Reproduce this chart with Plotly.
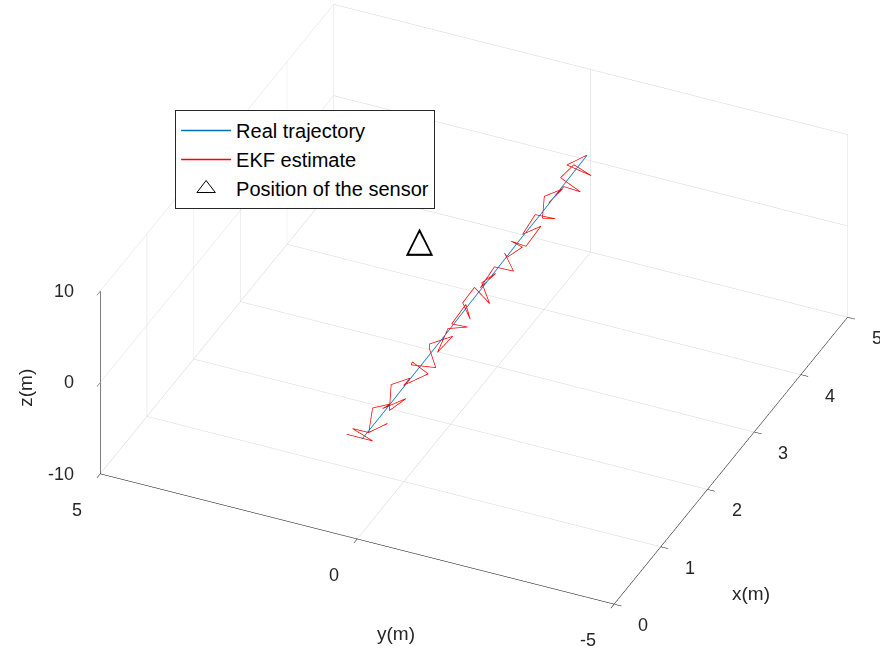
import plotly.graph_objects as go

# Real trajectory
real_x = [0.1, 0.5, 1.0, 1.5, 2.0, 2.5, 3.0, 3.5, 4.0, 4.5, 5.0]
real_y = [0.0, 0.0, 0.01, 0.01, 0.02, 0.03, 0.04, 0.05, 0.05, 0.06, 0.07]
real_z = [0.3, 0.3, 0.3, 0.35, 0.35, 0.4, 0.4, 0.45, 0.45, 0.5, 0.5]

# EKF estimate
ekf_x = [0.05, 0.22, 0.10, 0.30, 0.41, 0.38, 0.55, 0.62, 0.71, 0.85,
         0.80, 0.97, 1.08, 1.15, 1.30, 1.27, 1.42, 1.55, 1.61, 1.75,
         1.88, 1.83, 2.00, 2.12, 2.20, 2.35, 2.31, 2.48, 2.60, 2.66,
         2.80, 2.92, 2.88, 3.05, 3.15, 3.22, 3.38, 3.45, 3.52, 3.66,
         3.78, 3.74, 3.90, 4.02, 4.10, 4.25, 4.33, 4.28, 4.45, 4.58,
         4.62, 4.75, 4.88, 4.80, 4.95, 5.00]
ekf_y = [0.25, -0.10, 0.18, 0.05, -0.22, 0.12, 0.20, -0.08, 0.15, -0.18,
         0.10, 0.22, -0.05, 0.14, -0.20, 0.08, 0.24, -0.12, 0.06, 0.18,
         -0.15, 0.10, 0.05, -0.22, 0.16, 0.02, -0.10, 0.20, 0.08, -0.16,
         0.12, -0.04, 0.22, 0.10, -0.18, 0.06, 0.15, -0.08, 0.20, 0.04,
         -0.14, 0.18, 0.08, -0.20, 0.12, 0.22, -0.06, 0.16, 0.02, -0.18,
         0.24, 0.10, -0.12, 0.28, 0.05, 0.07]
ekf_z = [0.8, -0.5, 1.2, -0.3, 0.4, -0.9, 0.6, 1.0, -0.4, 0.3,
         -1.1, 0.5, 0.9, -0.6, 0.2, 1.3, -0.2, -0.8, 0.7, 0.1,
         0.6, -1.2, 0.4, 0.2, -0.5, 0.9, -0.3, 0.0, 1.1, -0.7,
         0.3, 0.8, -0.9, 0.5, -0.2, 1.0, -0.6, 0.4, 0.2, -1.0,
         0.7, -0.4, 0.9, 0.1, -0.8, 0.5, 1.2, -0.3, 0.6, -0.5,
         0.2, 1.0, -0.7, 0.4, 0.8, 0.5]

# Sensor
sensor_x = [3.2]
sensor_y = [1.7]
sensor_z = [0.0]

x_ticks = [0, 1, 2, 3, 4, 5]
x_labels = ["0", "1", "2", "3", "4", "5"]
y_ticks = [-5, 0, 5]
y_labels = ["-5", "0", "5"]
z_ticks = [-10, 0, 10]
z_labels = ["-10", "0", "10"]

FONT = "Liberation Sans, Arial, sans-serif"
TXT = "#262626"
TICKF = dict(size=18, family=FONT, color=TXT)
TITLEF = dict(size=19, family=FONT, color=TXT)

fig = go.Figure()
fig.add_trace(go.Scatter3d(x=real_x, y=real_y, z=real_z, mode="lines",
                           line=dict(color="#0072BD", width=1.5),
                           name="Real trajectory", legendgroup="a"))
fig.add_trace(go.Scatter3d(x=ekf_x, y=ekf_y, z=ekf_z, mode="lines",
                           line=dict(color="#FF0000", width=1.5),
                           name="EKF estimate", legendgroup="b"))
fig.add_trace(go.Scatter3d(x=sensor_x, y=sensor_y, z=sensor_z, mode="text",
                           text=["\u25B3"], textposition="middle center",
                           textfont=dict(size=36, color="black"),
                           showlegend=False, name="Position of the sensor",
                           legendgroup="c"))
# legend entry for the sensor symbol
fig.add_trace(go.Scatter(x=[None], y=[None], mode="markers",
                         marker=dict(symbol="triangle-up-open", size=22, color="black",
                                     line=dict(width=1)),
                         name="Position of the sensor", legendgroup="c"))

axis_common = dict(showbackground=False, gridcolor="#d4d4d4", gridwidth=1,
                   showline=True, linecolor="black", linewidth=1,
                   zeroline=False, showspikes=False, ticks="outside",
                   ticklen=8, tickcolor="black", showticklabels=False,
                   title_text="")

# tick labels and titles as scene annotations anchored at data coordinates
annots = []
for v, t in zip(x_ticks, x_labels):
    annots.append(dict(x=v, y=-5, z=-10, text=t, showarrow=False, xanchor="left",
                       yanchor="middle", xshift=22, yshift=-21, font=TICKF))
for v, t in zip(y_ticks, y_labels):
    annots.append(dict(x=0, y=v, z=-10, text=t, showarrow=False, xanchor="right",
                       yanchor="middle", xshift=-16, yshift=-36, font=TICKF))
for v, t in zip(z_ticks, z_labels):
    annots.append(dict(x=0, y=5, z=v, text=t, showarrow=False, xanchor="right",
                       yanchor="middle", xshift=-24, yshift=0, font=TICKF))
annots += [
    dict(x=2.5, y=-5, z=-10, text="x(m)", showarrow=False,
         xshift=20, yshift=-133, font=TITLEF),
    dict(x=0, y=0, z=-10, text="y(m)", showarrow=False,
         xshift=39, yshift=-95, font=TITLEF),
    dict(x=0, y=5, z=0, text="z(m)", showarrow=False, textangle=-90,
         xshift=-75, yshift=-5, font=TITLEF),
]

K = 1.734
C = dict(x=-0.078, y=0.079, z=-0.053)
D = (-0.755, -0.343, 0.558)
L = 2.0
fig.update_layout(
    width=880, height=651,
    margin=dict(l=0, r=0, t=0, b=0),
    paper_bgcolor="white",
    font=dict(family=FONT, size=18, color=TXT),
    xaxis=dict(visible=False), yaxis=dict(visible=False),
    hovermode=False,
    scene=dict(
        domain=dict(x=[0, 1], y=[0, 1]),
        xaxis=dict(range=[0, 5], tickvals=x_ticks, **axis_common),
        yaxis=dict(range=[-5, 5], tickvals=y_ticks, **axis_common),
        zaxis=dict(range=[-10, 10], tickvals=z_ticks, **axis_common),
        aspectmode="manual",
        aspectratio=dict(x=K, y=K, z=0.39 * K),
        camera=dict(eye=dict(x=C["x"] + D[0] * L, y=C["y"] + D[1] * L,
                             z=C["z"] + D[2] * L),
                    up=dict(x=0, y=0, z=1),
                    center=C,
                    projection=dict(type="orthographic")),
        bgcolor="white",
        annotations=annots,
    ),
    legend=dict(x=0.199, y=0.831, xanchor="left", yanchor="top",
                bgcolor="white", bordercolor=TXT, borderwidth=1,
                itemwidth=50, tracegroupgap=0, traceorder="grouped",
                font=dict(size=20, family=FONT, color="black")),
)

fig.write_html("out.html")
